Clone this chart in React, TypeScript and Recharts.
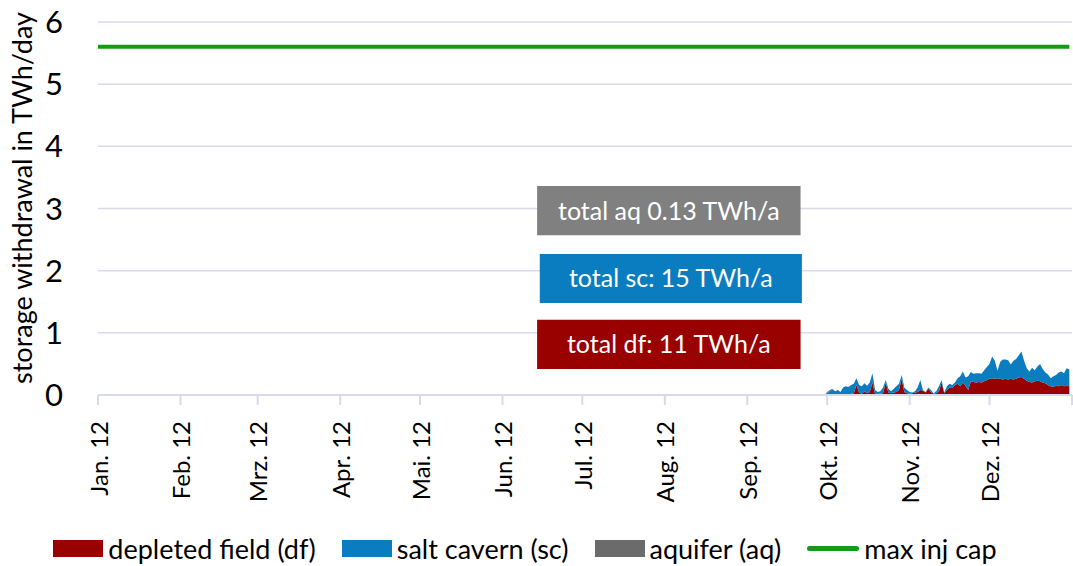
import React from "react"
import {
  ComposedChart,
  Area,
  Line,
  XAxis,
  YAxis,
  CartesianGrid,
  Legend,
  ReferenceArea,
} from "recharts"

// 2012 is a leap year: 366 days, data is daily
const daysInYear = 366
const monthLabels = ["Jan. 12", "Feb. 12", "Mrz. 12", "Apr. 12", "Mai. 12", "Jun. 12", "Jul. 12", "Aug. 12", "Sep. 12", "Okt. 12", "Nov. 12", "Dez. 12", ""]
const monthStartDays = [0, 31, 60, 91, 121, 152, 182, 213, 244, 274, 305, 335, 366]

// withdrawal only happens from 1 Oct (day 274) onwards, TWh/day
const q4StartDay = 274
const depletedField = [
  0, 0, 0, 0, 0, 0, 0, 0.01, 0, 0.02, 0.03, 0.16, 0.04, 0.02, 0.06, 0.03, 0.05, 0.2, 0.02, 0.03,
  0.02, 0.03, 0.2, 0.04, 0.03, 0.04, 0.05, 0.08, 0.26, 0.05, 0.03, 0.02, 0.03, 0.04, 0.05, 0.08, 0.07, 0.04, 0.1, 0.05,
  0.02, 0.03, 0.06, 0.2, 0.03, 0.08, 0.12, 0.11, 0.16, 0.18, 0.14, 0.2, 0.15, 0.08, 0.22, 0.21, 0.2, 0.21, 0.2, 0.22,
  0.24, 0.26, 0.27, 0.26, 0.27, 0.26, 0.25, 0.26, 0.25, 0.26, 0.25, 0.26, 0.28, 0.29, 0.26, 0.23, 0.21, 0.2, 0.22, 0.23,
  0.22, 0.2, 0.19, 0.16, 0.14, 0.13, 0.15, 0.14, 0.16, 0.14, 0.15, 0.14,
]
const saltCavern = [
  0.03, 0.06, 0.09, 0.06, 0.08, 0.05, 0.12, 0.13, 0.13, 0.14, 0.15, 0.11, 0.12, 0.12, 0.13, 0.12, 0.15, 0.15, 0.06, 0.02,
  0.04, 0.09, 0.04, 0.06, 0.03, 0.06, 0.09, 0.1, 0.06, 0.07, 0.05, 0.03, 0.01, 0.02, 0.07, 0.16, 0.01, 0.01, 0.02, 0.03,
  0.01, 0.03, 0.08, 0.04, 0.01, 0.06, 0.06, 0.05, 0.04, 0.09, 0.16, 0.18, 0.13, 0.22, 0.15, 0.13, 0.15, 0.14, 0.14, 0.18,
  0.21, 0.24, 0.35, 0.29, 0.12, 0.27, 0.32, 0.31, 0.31, 0.23, 0.3, 0.32, 0.36, 0.41, 0.29, 0.2, 0.17, 0.24, 0.18, 0.23,
  0.28, 0.22, 0.17, 0.17, 0.13, 0.17, 0.17, 0.22, 0.22, 0.21, 0.28, 0.27,
]
const aquifer = [0.02, 0.02, 0.01]
const maxInjCap = 5.6

const yTicks = [0, 1, 2, 3, 4, 5, 6]

const data = Array.from({ length: daysInYear }, (_, day) => {
  const i = day - q4StartDay
  return {
    day,
    df: i >= 0 ? depletedField[i] ?? 0 : 0,
    sc: i >= 0 ? saltCavern[i] ?? 0 : 0,
    aq: i >= 0 ? aquifer[i] ?? 0 : 0,
    cap: maxInjCap,
  }
})

const font = "Lato, 'Liberation Sans', sans-serif"
const gridColor = "#D9D9EC"

const legendItems = [
  { label: "depleted field (df)", color: "#990000", kind: "box" },
  { label: "salt cavern (sc)", color: "#0A7DC0", kind: "box" },
  { label: "aquifer (aq)", color: "#6B6B6B", kind: "box" },
  { label: "max inj cap", color: "#149A14", kind: "line" },
]

const MonthTick = (props: any) => {
  const { x, y, payload } = props
  const idx = monthStartDays.indexOf(payload.value)
  return (
    <text
      transform={`translate(${x},${y + 14}) rotate(-90)`}
      textAnchor="end"
      dominantBaseline="central"
      fontSize={24}
      fontFamily={font}
      fill="#000"
    >
      {monthLabels[idx]}
    </text>
  )
}

const LegendContent = () => (
  <div
    style={{
      display: "flex",
      justifyContent: "center",
      alignItems: "center",
      height: 36,
      paddingTop: 10,
      paddingRight: 22,
      fontFamily: font,
      fontSize: 27,
      color: "#000",
      gap: 26,
    }}
  >
    {legendItems.map((it) => (
      <div key={it.label} style={{ display: "flex", alignItems: "center" }}>
        {it.kind === "box" ? (
          <span style={{ display: "inline-block", width: 50, height: 17, background: it.color, marginRight: 5 }} />
        ) : (
          <span style={{ display: "inline-block", width: 52, height: 5, background: it.color, borderRadius: 2.5, marginRight: 5 }} />
        )}
        <span>{it.label}</span>
      </div>
    ))}
  </div>
)

const boxLabel = (value: string) => ({
  value,
  position: "center" as const,
  fill: "#FFFFFF",
  fontSize: 25,
  fontFamily: font,
})

export default function App() {
  return (
    <div style={{ position: "absolute", left: 0, top: 0, background: "#fff" }}>
      <ComposedChart width={1073} height={566} data={data} margin={{ top: 22, right: 1, left: 0, bottom: 0 }}>
        <CartesianGrid vertical={false} stroke={gridColor} strokeWidth={1.5} />
        <XAxis
          dataKey="day"
          type="number"
          domain={[0, daysInYear]}
          ticks={monthStartDays}
          interval={0}
          height={125}
          tick={<MonthTick />}
          tickSize={10}
          tickLine={{ stroke: gridColor, strokeWidth: 2 }}
          axisLine={{ stroke: gridColor, strokeWidth: 2 }}
        />
        <YAxis
          type="number"
          domain={[0, 6]}
          ticks={yTicks}
          width={98}
          axisLine={false}
          tickLine={false}
          tickMargin={29}
          tick={{ fontSize: 31, fontFamily: font, fill: "#000" }}
          label={{
            content: () => (
              <text
                x={21}
                y={198}
                transform="rotate(-90 21 198)"
                textAnchor="middle"
                dominantBaseline="central"
                fontSize={27}
                fontFamily={font}
                fill="#000"
              >
                storage withdrawal in TWh/day
              </text>
            ),
          }}
        />
        <ReferenceArea x1={165} x2={264} y1={2.57} y2={3.36} fill="#808080" fillOpacity={1} stroke="none" label={boxLabel("total aq 0.13 TWh/a")} />
        <ReferenceArea x1={166} x2={264.5} y1={1.48} y2={2.27} fill="#0A7DC0" fillOpacity={1} stroke="none" label={boxLabel("total sc: 15 TWh/a")} />
        <ReferenceArea x1={165} x2={264} y1={0.42} y2={1.21} fill="#990000" fillOpacity={1} stroke="none" label={boxLabel("total df: 11 TWh/a")} />
        <Area type="linear" dataKey="df" stackId="s" stroke="none" fill="#990000" fillOpacity={1} isAnimationActive={false} />
        <Area type="linear" dataKey="sc" stackId="s" stroke="none" fill="#0A7DC0" fillOpacity={1} isAnimationActive={false} />
        <Area type="linear" dataKey="aq" stackId="s" stroke="none" fill="#6B6B6B" fillOpacity={1} isAnimationActive={false} />
        <Line type="linear" dataKey="cap" stroke="#149A14" strokeWidth={4} dot={false} isAnimationActive={false} />
        <Legend verticalAlign="bottom" height={46} content={<LegendContent />} />
      </ComposedChart>
    </div>
  )
}
